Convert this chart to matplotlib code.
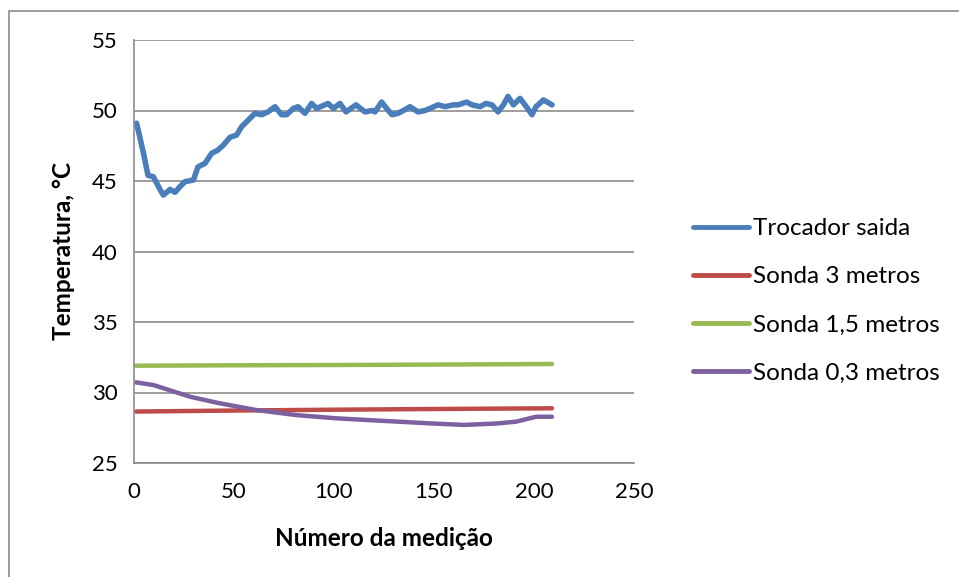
import matplotlib
matplotlib.use("Agg")
import matplotlib.pyplot as plt
from matplotlib.patches import Rectangle

plt.rcParams['font.family'] = ['Lato', 'DejaVu Sans']

# Data
trocador_x = [1, 1.3, 4.7, 7, 9.7, 13, 14.7, 18, 20.5, 23, 25.5, 29.7, 32, 35.5, 38.8, 42, 44.7,
              48, 51.3, 53.8, 57, 60.5, 63.8, 67, 70.5, 73.8, 76.3, 79.7, 82, 85.5, 88.8, 91.3,
              97, 99.7, 103, 106, 111, 115.5, 119, 120.5, 123.8, 126.3, 129, 132, 134.7, 138,
              142, 145.5, 148, 152, 155.5, 159.7, 162, 166.3, 169, 173, 176, 179, 182, 184.7,
              187, 189.7, 193, 195.5, 199, 201, 204.7, 209]
trocador_y = [49.0, 49.1, 47.0, 45.4, 45.3, 44.4, 44.0, 44.4, 44.2, 44.6, 44.95, 45.07, 46.0, 46.25,
              46.96, 47.2, 47.55, 48.1, 48.26, 48.85, 49.3, 49.8, 49.7, 49.9, 50.27, 49.7, 49.7,
              50.15, 50.27, 49.8, 50.5, 50.15, 50.5, 50.15, 50.5, 49.9, 50.4, 49.9, 50.0, 49.9,
              50.6, 50.15, 49.7, 49.8, 50.0, 50.27, 49.9, 50.0, 50.15, 50.4, 50.27, 50.4, 50.4,
              50.6, 50.4, 50.27, 50.5, 50.4, 49.9, 50.4, 51.0, 50.4, 50.86, 50.4, 49.7, 50.27,
              50.75, 50.4]

sonda3_x = [1, 50, 100, 150, 209]
sonda3_y = [28.65, 28.72, 28.78, 28.83, 28.88]

sonda15_x = [1, 50, 100, 150, 209]
sonda15_y = [31.9, 31.93, 31.95, 31.98, 32.02]

sonda03_x = [1, 9.7, 28, 43, 61, 81, 101, 123, 148, 165, 181, 191, 201, 209]
sonda03_y = [30.72, 30.53, 29.7, 29.23, 28.76, 28.4, 28.17, 28.0, 27.81, 27.7, 27.8, 27.93, 28.28, 28.28]

labels = ["Trocador saida", "Sonda 3 metros", "Sonda 1,5 metros", "Sonda 0,3 metros"]
colors = ["#4A7EBB", "#BE4B48", "#98B954", "#7D60A0"]

W, H = 959, 577
fig = plt.figure(figsize=(W / 100, H / 100), dpi=100)
ax = fig.add_axes([134 / W, 1 - 463 / H, 500 / W, 423 / H])

ax.plot(trocador_x, trocador_y, color=colors[0], lw=4.0, label=labels[0], solid_capstyle='round', solid_joinstyle='round')
ax.plot(sonda3_x, sonda3_y, color=colors[1], lw=3.2, label=labels[1], solid_capstyle='round')
ax.plot(sonda15_x, sonda15_y, color=colors[2], lw=3.2, label=labels[2], solid_capstyle='round')
ax.plot(sonda03_x, sonda03_y, color=colors[3], lw=3.2, label=labels[3], solid_capstyle='round')

ax.set_xlim(0, 250)
ax.set_ylim(25, 55)
ax.set_xticks([0, 50, 100, 150, 200, 250])
ax.set_yticks([25, 30, 35, 40, 45, 50, 55])
ax.grid(axis='y', color='#8C8C8C', lw=1.2)
ax.set_axisbelow(True)
for s in ['top', 'right']:
    ax.spines[s].set_visible(False)
for s in ['left', 'bottom']:
    ax.spines[s].set_color('#8C8C8C')
    ax.spines[s].set_linewidth(1.2)
ax.tick_params(length=0, labelsize=16, colors='#000000', pad=12)
ax.tick_params(axis='x', pad=14)
ax.set_xlabel("Número da medição", fontsize=17.5, fontweight='bold', labelpad=18)
ax.set_ylabel("Temperatura, °C", fontsize=17.5, fontweight='bold', labelpad=12)

leg = fig.legend(loc='upper left', bbox_to_anchor=(693 / W, 1 - 218 / H), frameon=False,
                 fontsize=17.5, handlelength=2.3, handletextpad=0.15, labelspacing=1.12,
                 borderaxespad=0, borderpad=0)
for line in leg.get_lines():
    line.set_linewidth(3.5)

fig.patches.append(Rectangle((9 / W, -0.5), 2, (1 - 11 / H) + 0.5, transform=fig.transFigure,
                             fill=False, edgecolor='#8C8C8C', lw=1.2))

fig.savefig("out.png", dpi=100)
